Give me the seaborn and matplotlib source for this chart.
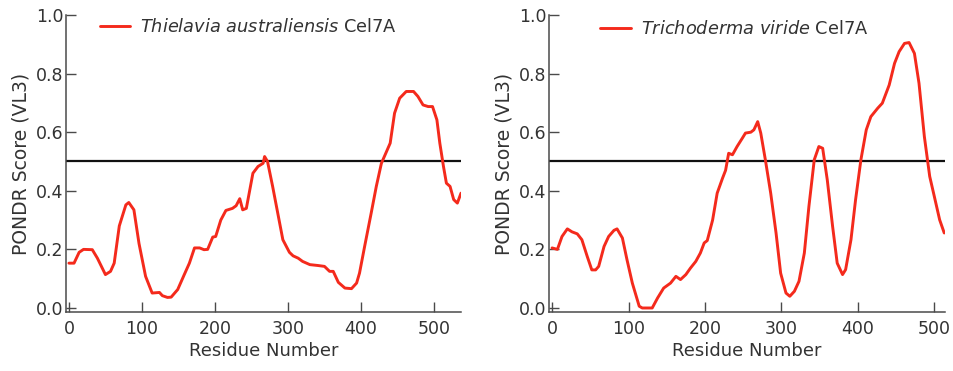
import numpy as np
import pandas as pd
import matplotlib
matplotlib.use("Agg")
import matplotlib.pyplot as plt
import seaborn as sns

# ---- data ----
ta_res = [0, 7, 14, 20, 32, 39, 50, 57, 62, 69, 78, 82, 89, 96, 105, 114, 124, 128, 135, 140,
          149, 158, 165, 172, 179, 185, 190, 197, 201, 208, 215, 224, 229, 234, 238, 243, 252,
          259, 266, 268, 272, 279, 286, 293, 302, 307, 314, 320, 330, 341, 350, 357, 362, 369,
          378, 387, 394, 398, 405, 414, 421, 428, 435, 440, 446, 453, 462, 472, 478, 485, 492,
          498, 504, 508, 513, 517, 522, 527, 532, 537]
ta_score = [0.153, 0.153, 0.19, 0.20, 0.199, 0.17, 0.114, 0.125, 0.153, 0.28, 0.352, 0.36, 0.335,
            0.22, 0.108, 0.051, 0.053, 0.042, 0.036, 0.037, 0.063, 0.114, 0.153, 0.205, 0.205,
            0.199, 0.20, 0.242, 0.244, 0.30, 0.333, 0.34, 0.349, 0.373, 0.335, 0.34, 0.46,
            0.483, 0.494, 0.517, 0.50, 0.415, 0.324, 0.233, 0.19, 0.178, 0.17, 0.159, 0.148,
            0.145, 0.142, 0.125, 0.125, 0.0875, 0.068, 0.066, 0.085, 0.119, 0.21, 0.324, 0.415,
            0.494, 0.534, 0.5625, 0.665, 0.716, 0.739, 0.739, 0.722, 0.693, 0.6875, 0.6875,
            0.642, 0.5625, 0.483, 0.426, 0.415, 0.37, 0.358, 0.392]

tv_res = [0, 7, 13, 20, 26, 33, 39, 46, 52, 57, 61, 68, 74, 81, 85, 92, 98, 105, 114, 118, 131,
          138, 146, 155, 162, 168, 175, 181, 188, 194, 199, 203, 210, 216, 223, 227, 231, 236,
          242, 249, 253, 260, 264, 269, 273, 279, 286, 293, 299, 306, 311, 317, 323, 330, 336,
          343, 349, 354, 360, 367, 373, 380, 384, 391, 397, 404, 411, 417, 426, 432, 441, 448,
          454, 461, 467, 474, 480, 487, 494, 500, 507, 513]
tv_score = [0.205, 0.20, 0.244, 0.27, 0.26, 0.253, 0.233, 0.176, 0.13, 0.13, 0.142, 0.21, 0.244,
            0.265, 0.27, 0.239, 0.165, 0.085, 0.006, 0.0, 0.0, 0.034, 0.068, 0.085, 0.108, 0.097,
            0.114, 0.136, 0.159, 0.1875, 0.222, 0.23, 0.30, 0.392, 0.443, 0.47, 0.528, 0.523,
            0.551, 0.58, 0.597, 0.60, 0.608, 0.636, 0.597, 0.506, 0.392, 0.256, 0.119, 0.051,
            0.04, 0.057, 0.091, 0.1875, 0.347, 0.506, 0.551, 0.545, 0.4375, 0.278, 0.153, 0.114,
            0.131, 0.233, 0.369, 0.506, 0.608, 0.653, 0.682, 0.699, 0.761, 0.835, 0.875, 0.903,
            0.906, 0.869, 0.767, 0.585, 0.449, 0.381, 0.301, 0.256]

threshold = 0.5
labels = [r"$\mathit{Thielavia\ australiensis}$ Cel7A", r"$\mathit{Trichoderma\ viride}$ Cel7A"]
xticks = [0, 100, 200, 300, 400, 500]
yticks = [0.0, 0.2, 0.4, 0.6, 0.8, 1.0]

sns.set_style("ticks")
plt.rcParams["font.family"] = ["DejaVu Sans"]
plt.rcParams["mathtext.fontset"] = "dejavusans"

fig = plt.figure(figsize=(9.54, 3.71), dpi=100)
W, H = 954, 371
# axes positions in pixels: (left, bottom, width, height)
ax1 = fig.add_axes([66 / W, 59 / H, 395 / W, 297 / H])
ax2 = fig.add_axes([549 / W, 59 / H, 396 / W, 297 / H])

red = "#f42a1c"
spine_col = "#4a4a4a"
text_col = "#333333"

panels = [
    (ax1, ta_res, ta_score, labels[0], (-4, 537), (0.085, 0.958)),
    (ax2, tv_res, tv_score, labels[1], (-4, 514), (0.13, 0.952)),
]

for ax, xs, ys, lab, xlim, legpos in panels:
    df = pd.DataFrame({"Residue": xs, "Score": ys})
    sns.lineplot(data=df, x="Residue", y="Score", ax=ax, color=red, linewidth=2.1, label=lab)
    ax.axhline(threshold, color="#111111", linewidth=1.6, zorder=1)
    ax.set_xlim(*xlim)
    ax.set_ylim(-0.0137, 1.0)
    ax.set_xticks(xticks)
    ax.set_yticks(yticks)
    ax.set_yticklabels([f"{v:.1f}" for v in yticks])
    ax.tick_params(direction="in", length=7, width=1.0, color=spine_col,
                   labelsize=12.5, labelcolor=text_col)
    ax.tick_params(axis="x", pad=6)
    ax.tick_params(axis="y", pad=2)
    for s in ["top", "right"]:
        ax.spines[s].set_visible(False)
    for s in ["left", "bottom"]:
        ax.spines[s].set_color(spine_col)
        ax.spines[s].set_linewidth(1.1)
    ax.set_xlabel("Residue Number", fontsize=13, color=text_col, labelpad=3)
    ax.set_ylabel("PONDR Score (VL3)", fontsize=13.5, color=text_col, labelpad=4)
    leg = ax.legend(loc="center left", bbox_to_anchor=legpos, frameon=False,
                    fontsize=12.8, handlelength=1.7, handletextpad=0.6, borderpad=0,
                    borderaxespad=0)
    for t in leg.get_texts():
        t.set_color(text_col)

fig.savefig("out.png", dpi=100)
